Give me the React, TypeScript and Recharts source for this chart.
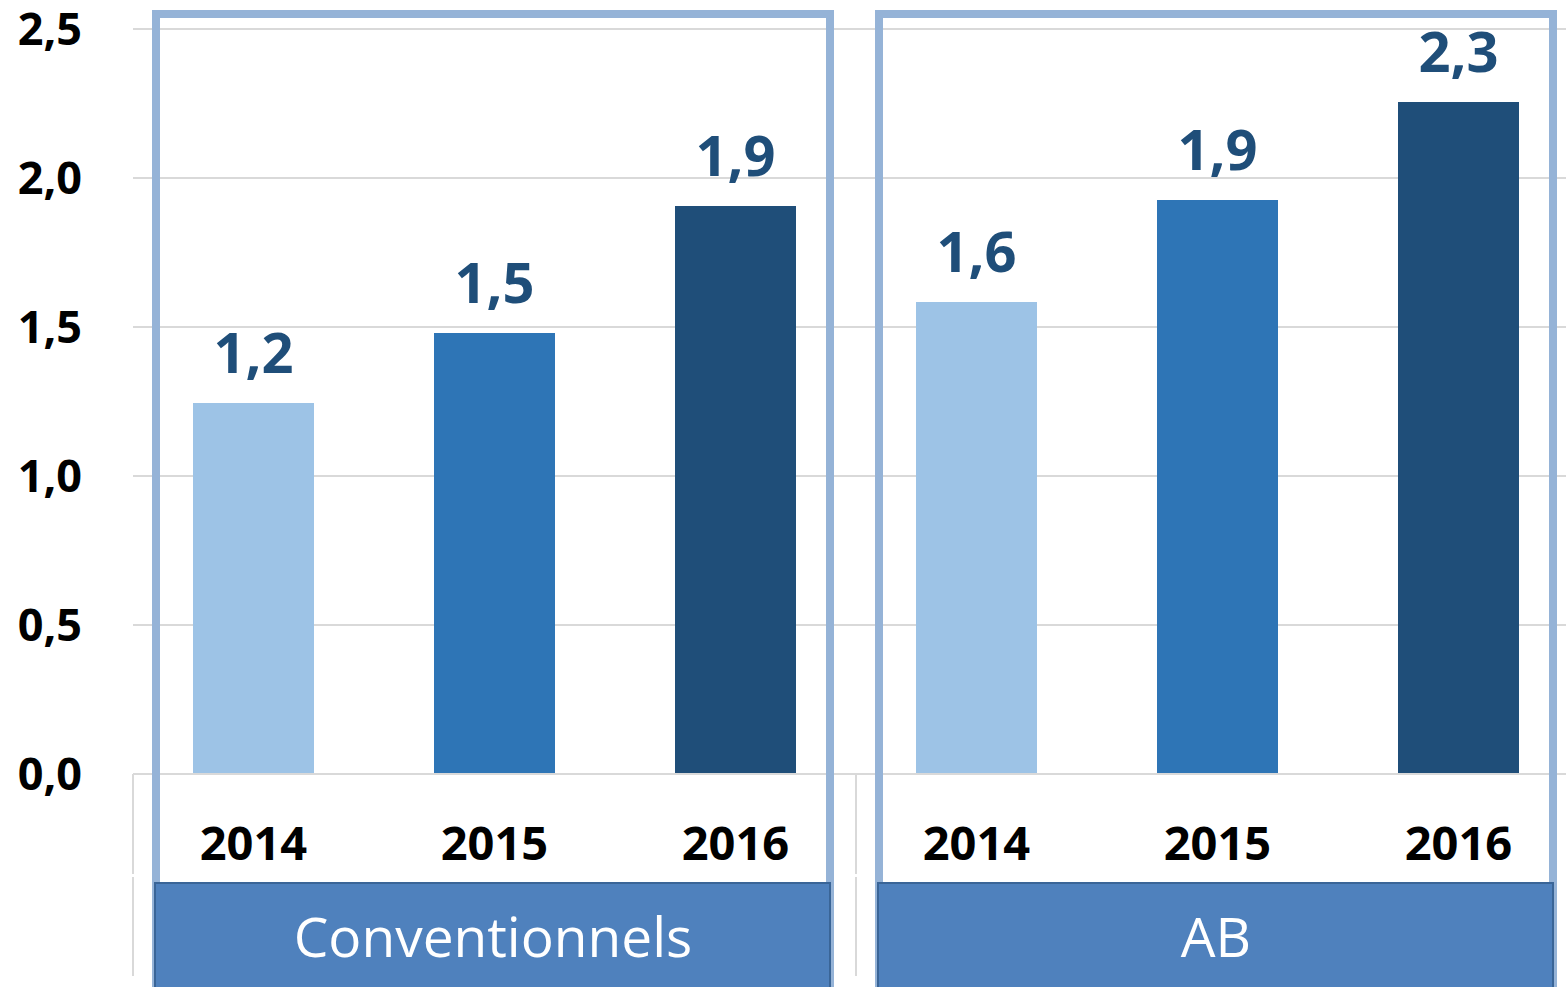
import React from 'react';
import { BarChart, Bar, XAxis, YAxis, CartesianGrid, Cell, LabelList } from 'recharts';

const groups = ['Conventionnels', 'AB'];
const years = ['2014', '2015', '2016'];
const conventionnels = [1.245, 1.48, 1.906];
const ab = [1.584, 1.926, 2.255];
const yTicks = [0, 0.5, 1.0, 1.5, 2.0, 2.5];
const yearColors = ['#9DC3E6', '#2E75B6', '#1F4E79'];

const seriesByGroup = [conventionnels, ab];
const data = groups.flatMap((g, gi) =>
  years.map((y, yi) => ({ key: `${g}-${y}`, year: y, yi, value: seriesByGroup[gi][yi] }))
);

const W = 1566;
const H = 987;
const CHART_W = 1590;
const Y_AXIS_W = 133;
const X_AXIS_H = 213;
const TOP = 29;
const RIGHT = 11;
const FONT = '"Open Sans", "Noto Sans", sans-serif';

const plotLeft = Y_AXIS_W;
const plotRight = CHART_W - RIGHT;
const plotBottom = H - X_AXIS_H;
const band = (plotRight - plotLeft) / data.length;

const fmt = (v: number) => v.toFixed(1).replace('.', ',');

const YearTick = (props: any) => {
  const { x, y, payload } = props;
  const label = String(payload.value).split('-')[1];
  return (
    <text x={x} y={y + 86} textAnchor="middle" fontFamily={FONT} fontWeight={700} fontSize={47} fill="#000">
      {label}
    </text>
  );
};

const Overlay = () => {
  return (
    <svg width={W} height={H} style={{ position: 'absolute', left: 0, top: 0, pointerEvents: 'none' }}>
      {[0, 1, 2].map((k) => {
        const x = plotLeft + k * 3 * band;
        return (
          <g key={`sep-${k}`}>
            <line x1={x} x2={x} y1={plotBottom} y2={plotBottom + 100} stroke="#D9D9D9" strokeWidth={2} />
            <line x1={x} x2={x} y1={plotBottom + 103} y2={plotBottom + 202} stroke="#D9D9D9" strokeWidth={2} />
          </g>
        );
      })}
      {groups.map((g, gi) => {
        const gs = plotLeft + gi * 3 * band;
        const ge = gs + 3 * band;
        const fl = gs + 23;
        const fr = ge - 26;
        return (
          <g key={g}>
            <path
              d={`M ${fl} ${H + 10} L ${fl} 14 L ${fr} 14 L ${fr} ${H + 10}`}
              fill="none"
              stroke="#95B3D7"
              strokeWidth={8}
            />
            <rect x={fl - 1} y={883} width={fr - fl + 1} height={120} fill="#4F81BD" stroke="#3A6597" strokeWidth={2} />
            <text
              x={(fl + fr) / 2}
              y={957}
              textAnchor="middle"
              fontFamily={FONT}
              fontSize={55}
              fill="#FFFFFF"
            >
              {g}
            </text>
          </g>
        );
      })}
    </svg>
  );
};

export default function App() {
  return (
    <div style={{ position: 'absolute', left: 0, top: 0, width: W, height: H, overflow: 'hidden', background: '#fff' }}>
      <BarChart
        width={CHART_W}
        height={H}
        data={data}
        margin={{ top: TOP, right: RIGHT, bottom: 0, left: 0 }}
        barCategoryGap={0}
      >
        <CartesianGrid horizontal vertical={false} stroke="#D9D9D9" strokeWidth={2} />
        <XAxis
          dataKey="key"
          height={X_AXIS_H}
          axisLine={{ stroke: '#D9D9D9', strokeWidth: 2 }}
          tickLine={false}
          tickSize={0}
          tickMargin={0}
          interval={0}
          tick={<YearTick />}
        />
        <YAxis
          width={Y_AXIS_W}
          domain={[0, 2.5]}
          ticks={yTicks}
          axisLine={false}
          tickLine={false}
          tickSize={0}
          tickMargin={51}
          tickFormatter={fmt}
          tick={{ fontFamily: FONT, fontWeight: 700, fontSize: 45, fill: '#000' }}
        />
        <Bar dataKey="value" barSize={121} isAnimationActive={false}>
          {data.map((d) => (
            <Cell key={d.key} fill={yearColors[d.yi]} />
          ))}
          <LabelList
            dataKey="value"
            position="top"
            offset={30}
            formatter={(v: any) => fmt(Number(v))}
            fontFamily={FONT}
            fontWeight={700}
            fontSize={56}
            fill="#1F4E79"
          />
        </Bar>
      </BarChart>
      <Overlay />
    </div>
  );
}
